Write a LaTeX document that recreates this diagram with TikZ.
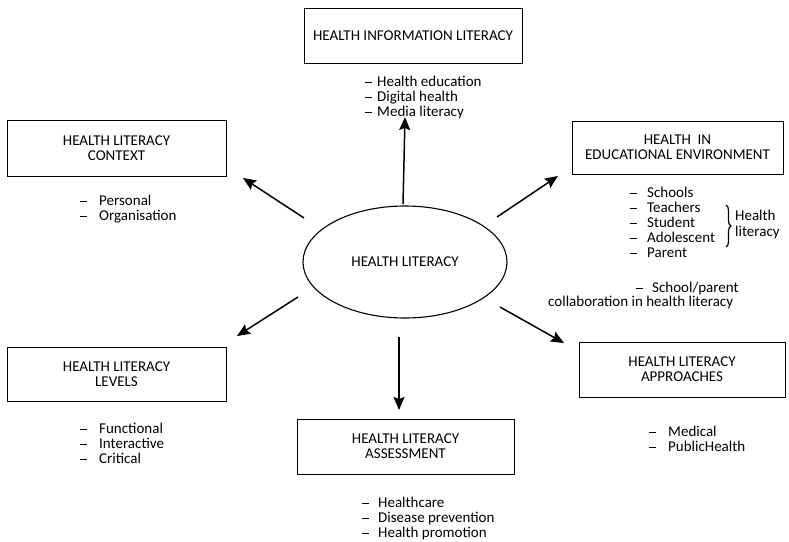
\documentclass[tikz,border=0pt]{standalone}
\usepackage{fontspec}
\setmainfont{Carlito}
\usetikzlibrary{arrows.meta,decorations.pathreplacing,shapes.geometric}
\newcommand\myfs{\fontsize{15}{15}\selectfont}
\newcommand\dashit[2]{\llap{\rule[0.24em]{7pt}{0.9pt}\hspace{#1pt}}#2}
\begin{document}
\begin{tikzpicture}[x=1pt,y=-1pt,
  every node/.style={font=\myfs, text=black},
  box/.style={draw=black, line width=0.8pt, inner sep=0pt, align=center},
  item/.style={anchor=base west, inner sep=0pt},
  arr/.style={line width=1.5pt, black, -{Stealth[length=13pt,width=11pt,inset=2pt]}}]
\useasboundingbox (0,0) rectangle (789,541);

% central ellipse
\node[draw=black, line width=1.1pt, ellipse, minimum width=204pt, minimum height=112pt, inner sep=0pt] (hl) at (405,262) {HEALTH LITERACY};

% boxes
\node[box, minimum width=218pt, minimum height=55pt] (hil) at (413,35.5) {HEALTH INFORMATION LITERACY};
\node[box, minimum width=219pt, minimum height=56pt] (ctx) at (116.5,148) {HEALTH LITERACY\\CONTEXT};
\node[box, minimum width=211pt, minimum height=53pt] (hee) at (677.5,147.5) {HEALTH\ \ IN\\EDUCATIONAL ENVIRONMENT};
\node[box, minimum width=206pt, minimum height=55pt] (apr) at (682,369.5) {HEALTH LITERACY\\APPROACHES};
\node[box, minimum width=219pt, minimum height=54pt] (lev) at (116.5,374) {HEALTH LITERACY\\LEVELS};
\node[box, minimum width=217pt, minimum height=55pt] (asm) at (405.5,446.5) {HEALTH LITERACY\\ASSESSMENT};

% arrows
\coordinate (s1) at (304,218); \coordinate (e1) at (243,178);
\coordinate (s2) at (403,204); \coordinate (e2) at (405,117);
\coordinate (s3) at (497,217); \coordinate (e3) at (558,176);
\coordinate (s4) at (298,297); \coordinate (e4) at (237,336);
\coordinate (s5) at (399,337); \coordinate (e5) at (399,410);
\coordinate (s6) at (500,307); \coordinate (e6) at (564,343);
\draw[arr] (s1) -- (e1);
\draw[arr] (s2) -- (e2);
\draw[arr] (s3) -- (e3);
\draw[arr] (s4) -- (e4);
\draw[arr] (s5) -- (e5);
\draw[arr] (s6) -- (e6);

% lists
\foreach \t [count=\i] in {Health education, Digital health, Media literacy}
  \node[item] (hil\i) at (377,{86+15*(\i-1)}) {\dashit{5}{\t}};
\foreach \t [count=\i] in {Personal, Organisation}
  \node[item] (ctx\i) at (99,{205+15*(\i-1)}) {\dashit{12}{\t}};
\foreach \t [count=\i] in {Schools, Teachers, Student, Adolescent, Parent}
  \node[item] (hee\i) at (647,{197+15.2*(\i-1)}) {\dashit{10}{\t}};
\node[item] (sp1) at (652,292) {\dashit{9}{School/parent}};
\node[item] (sp2) at (548,306) {collaboration in health literacy};
\foreach \t [count=\i] in {Medical, PublicHealth}
  \node[item] (apr\i) at (668,{436+15*(\i-1)}) {\dashit{12}{\t}};
\foreach \t [count=\i] in {Functional, Interactive, Critical}
  \node[item] (lev\i) at (99,{433+15*(\i-1)}) {\dashit{12}{\t}};
\foreach \t [count=\i] in {Healthcare, Disease prevention, Health promotion}
  \node[item] (asm\i) at (378,{507+15*(\i-1)}) {\dashit{9}{\t}};

% brace
\coordinate (b1) at (726,205); \coordinate (b2) at (726,247);
\draw[line width=1.2pt, decorate, decoration={brace, amplitude=5pt}] (b1) -- (b2);
\node[item] (hl1) at (735,220) {Health};
\node[item] (hl2) at (735,236) {literacy};
\end{tikzpicture}
\end{document}
